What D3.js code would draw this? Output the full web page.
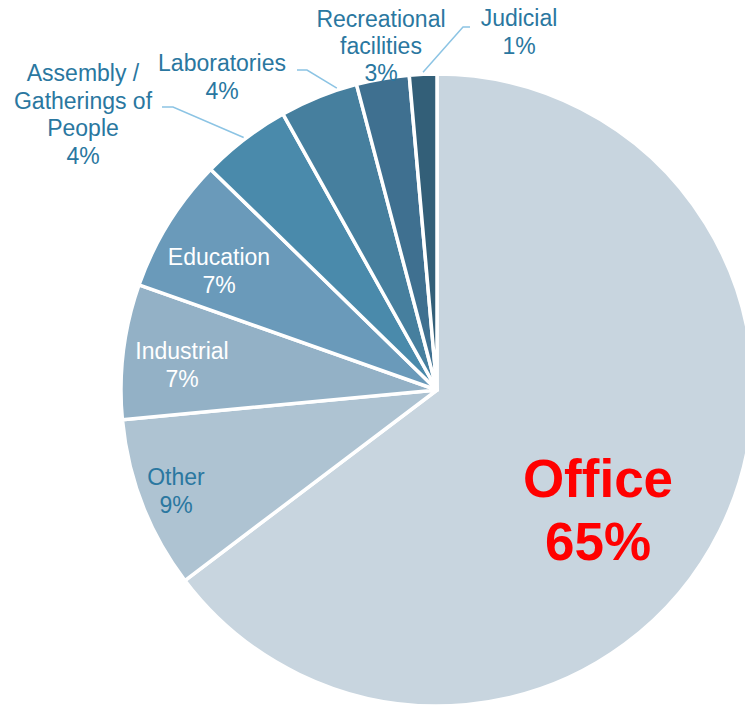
<!DOCTYPE html>
<html><head><meta charset="utf-8">
<script src="https://cdn.jsdelivr.net/npm/d3@7"></script>
<style>html,body{margin:0;padding:0;background:#fff;overflow:hidden}</style>
</head><body>
<svg id="c" width="745" height="705"></svg>
<script>
const categories = ["Office","Other","Industrial","Education","Assembly / Gatherings of People","Laboratories","Recreational facilities","Judicial"];
const values = [64.7, 8.8, 6.9, 6.9, 4.6, 4.0, 2.7, 1.4];
const percentLabels = ["65%","9%","7%","7%","4%","4%","3%","1%"];
const colors = ["#c8d5df","#aec3d2","#93b1c6","#6a9aba","#4a8aab","#467f9e","#3f7090","#335f78"];

// label layout (annotation placement)
const labelLayout = [
  {lines:["Office","65%"], x:598, y:478, dy:63, size:53, weight:"bold", fill:"#ff0000"},
  {lines:["Other","9%"], x:176, y:477, dy:28, size:23, fill:"#2a77a0"},
  {lines:["Industrial","7%"], x:182, y:351, dy:28, size:23, fill:"#ffffff"},
  {lines:["Education","7%"], x:219, y:257, dy:28, size:23, fill:"#ffffff"},
  {lines:["Assembly /","Gatherings of","People","4%"], x:83, y:73, dy:27.6, size:23, fill:"#2a77a0",
    leader:{a:0.5, pts:[[173,107],[162,107]]}},
  {lines:["Laboratories","4%"], x:222, y:63, dy:28, size:23, fill:"#2a77a0",
    leader:{a:0.75, pts:[[307,70],[297,70]]}},
  {lines:["Recreational","facilities","3%"], x:381, y:19, dy:27, size:23, fill:"#2a77a0"},
  {lines:["Judicial","1%"], x:519, y:18, dy:28, size:23, fill:"#2a77a0",
    leader:{a:0.5, pts:[[463,27],[470,27]]}}
];

const svg = d3.select("#c");
const cx = 437, cy = 390, R = 316;
const g = svg.append("g").attr("transform", `translate(${cx},${cy})`);
const data = categories.map((c,i)=>({name:c, value:values[i], i}));
const pie = d3.pie().value(d=>d.value).sort(null).startAngle(0).endAngle(2*Math.PI);
const arcs = pie(data);
const arc = d3.arc().innerRadius(0).outerRadius(R);

g.selectAll("path.slice").data(arcs).enter().append("path")
  .attr("class","slice")
  .attr("d", arc)
  .attr("fill", d=>colors[d.data.i])
  .attr("stroke","#ffffff").attr("stroke-width",3.5).attr("stroke-linejoin","round");

// leader lines
labelLayout.forEach((L,i)=>{
  if(!L.leader) return;
  const a = arcs[i];
  const ang = a.startAngle + (a.endAngle - a.startAngle)*L.leader.a;
  const r = R + 2;
  const p0 = [cx + r*Math.sin(ang), cy - r*Math.cos(ang)];
  const pts = [p0].concat(L.leader.pts);
  svg.append("path").attr("d", d3.line()(pts))
    .attr("fill","none").attr("stroke","#8cc4e4").attr("stroke-width",1.5);
});

labelLayout.forEach((L)=>{
  const t = svg.append("text")
    .attr("text-anchor","middle")
    .attr("font-family","'Liberation Sans', Arial, sans-serif")
    .attr("font-size", L.size)
    .attr("font-weight", L.weight || "normal")
    .attr("fill", L.fill);
  L.lines.forEach((ln,k)=>{
    t.append("tspan").attr("x", L.x).attr("y", L.y + k*L.dy)
     .attr("dominant-baseline","central").text(ln);
  });
});
</script>
</body></html>
